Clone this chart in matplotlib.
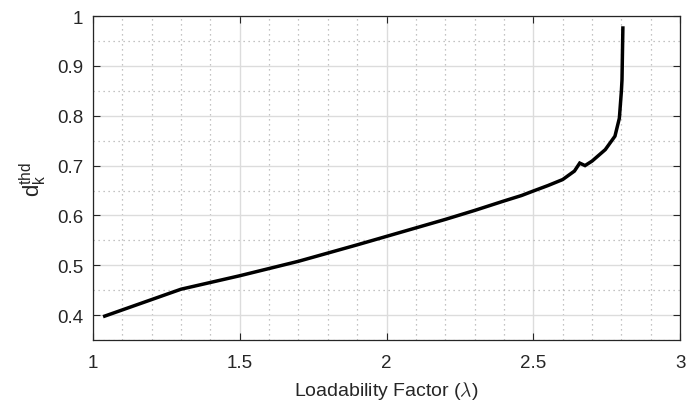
import matplotlib
matplotlib.use("Agg")
import matplotlib.pyplot as plt
from matplotlib.ticker import MultipleLocator

plt.rcParams['font.family'] = ['Liberation Sans', 'DejaVu Sans']
plt.rcParams['mathtext.fontset'] = 'custom'
plt.rcParams['mathtext.rm'] = 'Liberation Sans'
plt.rcParams['mathtext.it'] = 'Liberation Sans:italic'

lam = [1.04, 1.30, 1.50, 1.70, 1.90, 2.00, 2.10, 2.20, 2.30, 2.40, 2.46, 2.50,
       2.55, 2.60, 2.64, 2.658, 2.676, 2.70, 2.745, 2.778, 2.793, 2.800, 2.802, 2.805]
dthd = [0.398, 0.452, 0.479, 0.508, 0.541, 0.558, 0.575, 0.592, 0.610, 0.629, 0.640, 0.649,
        0.660, 0.672, 0.689, 0.705, 0.700, 0.709, 0.732, 0.759, 0.795, 0.850, 0.872, 0.976]

fig = plt.figure(figsize=(6.99, 4.06), dpi=100)
ax = fig.add_axes([0.133, 0.160, 0.840, 0.798])

ax.plot(lam, dthd, color='black', lw=2.5, solid_joinstyle='miter', zorder=3)

ax.set_xlim(1, 3)
ax.set_ylim(0.35, 1.0)
ax.xaxis.set_minor_locator(MultipleLocator(0.1))
ax.yaxis.set_minor_locator(MultipleLocator(0.05))
ax.set_xticks([1, 1.5, 2, 2.5, 3])
ax.set_xticklabels(['1', '1.5', '2', '2.5', '3'])
ax.set_yticks([0.4, 0.5, 0.6, 0.7, 0.8, 0.9, 1.0])
ax.set_yticklabels(['0.4', '0.5', '0.6', '0.7', '0.8', '0.9', '1'])

ax.grid(which='major', color='#dcdcdc', lw=1.0, ls='-')
ax.grid(which='minor', color='#b0b0b0', lw=0.9, ls=(0, (1, 3)))
ax.set_axisbelow(True)

ax.tick_params(which='major', direction='in', length=5, width=0.8, top=True, right=True,
               labelsize=13.5, colors='#262626')
ax.tick_params(axis='x', which='major', pad=10)
ax.tick_params(axis='y', which='major', pad=7)
ax.tick_params(which='minor', length=0, top=True, right=True)
for s in ax.spines.values():
    s.set_color('#262626')
    s.set_linewidth(0.9)

ax.set_xlabel(r'Loadability Factor ($\lambda$)', fontsize=14, color='#262626',
              math_fontfamily='cm', labelpad=6)
ax.set_ylabel(r'$\mathrm{d}_\mathrm{k}^\mathrm{thd}$', fontsize=16, color='#262626', labelpad=6)

fig.savefig('out.png', dpi=100)
